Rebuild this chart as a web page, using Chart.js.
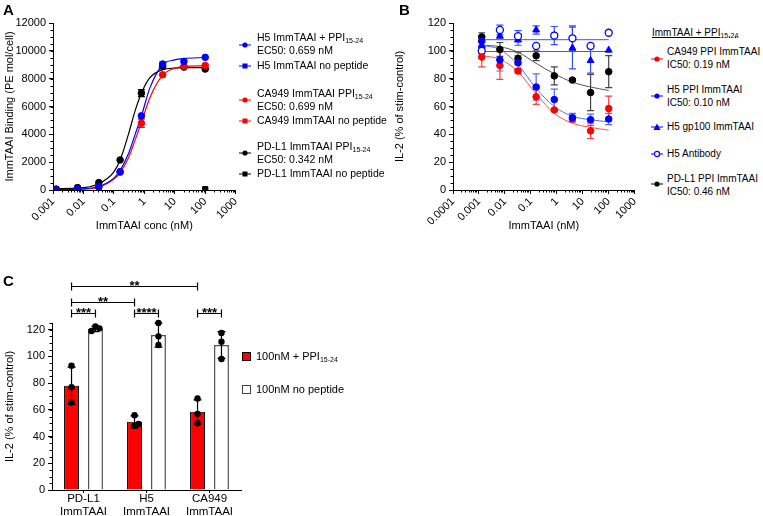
<!DOCTYPE html>
<html><head><meta charset="utf-8">
<script src="https://cdn.jsdelivr.net/npm/chart.js@4.4.0/dist/chart.umd.min.js"></script>
<style>
body{margin:0;background:#fff;font-family:"Liberation Sans",Arial,sans-serif;color:#000}
#wrap{position:relative;width:763px;height:516px;overflow:hidden}
canvas{position:absolute}
.t{position:absolute;white-space:nowrap;line-height:13px;font-size:10.5px}
.b{font-size:10px}
.lab{position:absolute;font-weight:bold;font-size:15px}
sub{font-size:7px;vertical-align:-2px;line-height:0}
svg{position:absolute}
</style></head><body><div id="wrap">
<canvas id="cA" width="246" height="236" style="left:0;top:0"></canvas>
<canvas id="cB" width="255" height="236" style="left:390px;top:0"></canvas>
<canvas id="cC" width="255" height="246" style="left:0;top:270px"></canvas>

<div class="lab" style="left:3px;top:1px">A</div>
<div class="lab" style="left:399px;top:1px">B</div>
<div class="lab" style="left:3px;top:272px">C</div>

<!-- legend A -->
<svg width="12" height="8" style="left:239px;top:41px"><line x1="0" y1="4" x2="12" y2="4" stroke="#00f"/><circle cx="6" cy="4" r="2.6" fill="#00f"/></svg>
<div class="t" style="left:257px;top:31px">H5 ImmTAAI + PPI<sub>15-24</sub><br>EC50: 0.659 nM</div>
<svg width="12" height="8" style="left:239px;top:62px"><line x1="0" y1="4" x2="12" y2="4" stroke="#00f"/><rect x="3.5" y="1.5" width="5" height="5" fill="#00f"/></svg>
<div class="t" style="left:257px;top:59px">H5 ImmTAAI no peptide</div>
<svg width="12" height="8" style="left:239px;top:96px"><line x1="0" y1="4" x2="12" y2="4" stroke="#f00"/><circle cx="6" cy="4" r="2.6" fill="#f00"/></svg>
<div class="t" style="left:257px;top:87px">CA949 ImmTAAI PPI<sub>15-24</sub><br>EC50: 0.699 nM</div>
<svg width="12" height="8" style="left:239px;top:117px"><line x1="0" y1="4" x2="12" y2="4" stroke="#f00"/><rect x="3.5" y="1.5" width="5" height="5" fill="#f00"/></svg>
<div class="t" style="left:257px;top:114px">CA949 ImmTAAI no peptide</div>
<svg width="12" height="8" style="left:239px;top:149px"><line x1="0" y1="4" x2="12" y2="4" stroke="#000"/><circle cx="6" cy="4" r="2.6" fill="#000"/></svg>
<div class="t" style="left:257px;top:140px">PD-L1 ImmTAAI PPI<sub>15-24</sub><br>EC50: 0.342 nM</div>
<svg width="12" height="8" style="left:239px;top:170px"><line x1="0" y1="4" x2="12" y2="4" stroke="#000"/><rect x="3.5" y="1.5" width="5" height="5" fill="#000"/></svg>
<div class="t" style="left:257px;top:167px">PD-L1 ImmTAAI no peptide</div>

<!-- legend B -->
<div class="t b" style="left:652px;top:26px;text-decoration:underline">ImmTAAI + PPI<sub>15-24</sub></div>
<svg width="12" height="8" style="left:651px;top:55px"><line x1="0" y1="4" x2="12" y2="4" stroke="#f00"/><circle cx="6" cy="4" r="2.6" fill="#f00"/></svg>
<div class="t b" style="left:667px;top:45px">CA949 PPI ImmTAAI<br>IC50: 0.19 nM</div>
<svg width="12" height="8" style="left:651px;top:92px"><line x1="0" y1="4" x2="12" y2="4" stroke="#00f"/><circle cx="6" cy="4" r="2.6" fill="#00f"/></svg>
<div class="t b" style="left:667px;top:83px">H5 PPI ImmTAAI<br>IC50: 0.10 nM</div>
<svg width="12" height="8" style="left:651px;top:123px"><line x1="0" y1="4" x2="12" y2="4" stroke="#00f"/><polygon points="6,0.5 9.5,7 2.5,7" fill="#00f"/></svg>
<div class="t b" style="left:667px;top:120px">H5 gp100 ImmTAAI</div>
<svg width="12" height="8" style="left:651px;top:150px"><line x1="0" y1="4" x2="12" y2="4" stroke="#00f"/><circle cx="6" cy="4" r="2.6" fill="#fff" stroke="#00f" stroke-width="1.2"/></svg>
<div class="t b" style="left:667px;top:147px">H5 Antibody</div>
<svg width="12" height="8" style="left:651px;top:180px"><line x1="0" y1="4" x2="12" y2="4" stroke="#000"/><circle cx="6" cy="4" r="2.6" fill="#000"/></svg>
<div class="t b" style="left:667px;top:172px">PD-L1 PPI ImmTAAI<br>IC50: 0.46 nM</div>

<!-- legend C -->
<svg width="9" height="9" style="left:242px;top:352px"><rect x="0.5" y="0.5" width="8" height="8" fill="#f00" stroke="#000"/></svg>
<div class="t" style="left:256px;top:350px;font-size:11px">100nM + PPI<sub>15-24</sub></div>
<svg width="9" height="9" style="left:242px;top:385px"><rect x="0.5" y="0.5" width="8" height="8" fill="#fff" stroke="#444"/></svg>
<div class="t" style="left:256px;top:383px;font-size:11px">100nM no peptide</div>
</div>
<script>
// 5倍稀释浓度 (nM)
const doseX = [0.00128, 0.0064, 0.032, 0.16, 0.8, 4, 20, 100];

// A: binding
const aH5 = [0, 50, 240, 1320, 5330, 9050, 9240, 9530];
const aH5Err = [0, 0, 0, 0, 0, 150, 0, 0];
const aCa949 = [0, 50, 190, 1270, 4800, 8280, 8880, 8950];
const aCa949Err = [0, 0, 0, 0, 300, 0, 0, 0];
const aPdl1 = [70, 170, 530, 2160, 6960, 8880, 8830, 8690];
const aPdl1Err = [0, 0, 0, 0, 250, 0, 0, 0];
const aNoPepX = [100];
const aH5NoPep = [0];
const aCa949NoPep = [0];
const aPdl1NoPep = [70];
// fitted curves
const aFitX = [0.00128, 0.0064, 0.032, 0.1, 0.16, 0.3, 0.5, 0.8, 1.5, 4, 10, 20, 100];
const aFitH5 = [20, 60, 250, 850, 1400, 2600, 4000, 5300, 7300, 9000, 9350, 9450, 9520];
const aFitCa949 = [20, 50, 200, 780, 1250, 2300, 3600, 4850, 6600, 8250, 8750, 8880, 8920];
const aFitPdl1 = [100, 130, 450, 1300, 2150, 4000, 5700, 6950, 8050, 8650, 8760, 8790, 8800];

// B: IL-2
const bCa949 = [95.5, 89.5, 85.5, 67, 57.5, 51, 42.5, 58.5];
const bCa949Err = [7, 10, 1.5, 5.5, 1, 2, 5.5, 9];
const bH5 = [107, 93.5, 91.5, 74, 65, 52, 50.5, 51];
const bH5Err = [3, 8, 5, 9.5, 7.5, 3, 4, 4];
const bGp100 = [104, 110.5, 108, 115, 111, 102, 93, 100.5];
const bGp100Err = [2, 0, 4, 3, 0, 15, 9, 0];
const bAb = [100, 115, 110.5, 103.5, 111, 109, 103.5, 113];
const bAbErr = [2, 3.5, 4, 0, 6.5, 9, 0, 0];
const bPdl1 = [110, 101, 94.5, 96.5, 82, 79, 70, 85];
const bPdl1Err = [3, 5, 4.5, 3.5, 6.5, 1, 13, 11.5];
const bFitCa949 = [96.5, 94, 85, 69, 55, 48, 45, 43];
const bFitH5 = [104, 101, 90, 73, 60, 53, 50.5, 49];
const bFitPdl1 = [104, 103, 99, 91, 83.5, 77.5, 74, 71.5];
const bFlatX = [0.00128, 100];
const bFlatGp100 = [99.5, 99.5];
const bFlatAb = [108, 108];

// C: 100nM
const cGroups = [['PD-L1', 'ImmTAAI'], ['H5', 'ImmTAAI'], ['CA949', 'ImmTAAI']];
const cPpiMean = [78, 51, 58.5];
const cPpiSd = [14, 4.5, 9];
const cPpiReps = [[93, 77, 65.5], [56, 48, 49.5], [68.5, 57, 50]];
const cNoPepMean = [120.5, 116, 108.5];
const cNoPepSd = [2, 9, 10];
const cNoPepReps = [[122.5, 119, 121], [125, 115, 108.5], [117.5, 111, 98]];
// [group, dataset] -> [group, dataset], label
const cSig = [
    [[0, 0], [0, 1], '***'],
    [[1, 0], [1, 1], '****'],
    [[2, 0], [2, 1], '***'],
    [[0, 0], [1, 0], '**'],
    [[0, 0], [2, 0], '**']
];

Chart.defaults.font.family = '"Liberation Sans", Arial, sans-serif';
Chart.defaults.font.size = 11;
Chart.defaults.color = '#000';

const pts = (xs, ys) => xs.map((x, i) => ({ x, y: ys[i] }));

const errorBars = {
    id: 'errorBars',
    beforeDatasetsDraw(chart) {
        const { ctx, scales: { x, y } } = chart;
        chart.data.datasets.forEach(ds => {
            if (!ds.errors) return;
            ctx.save();
            ctx.strokeStyle = ds.errColor || ds.borderColor;
            ctx.lineWidth = 1.2;
            ctx.beginPath();
            ds.data.forEach((p, j) => {
                const e = ds.errors[j];
                if (!e) return;
                const px = x.getPixelForValue(p.x);
                const y1 = y.getPixelForValue(p.y - e), y2 = y.getPixelForValue(p.y + e);
                ctx.moveTo(px, y1); ctx.lineTo(px, y2);
                ctx.moveTo(px - 3.5, y1); ctx.lineTo(px + 3.5, y1);
                ctx.moveTo(px - 3.5, y2); ctx.lineTo(px + 3.5, y2);
            });
            ctx.stroke();
            ctx.restore();
        });
    }
};

const minorTicks = {
    id: 'minorTicks',
    afterDraw(chart, args, opts) {
        const { ctx, chartArea: a, scales: { x, y } } = chart;
        ctx.save();
        ctx.strokeStyle = '#000';
        ctx.lineWidth = 1;
        ctx.beginPath();
        if (x.type === 'logarithmic') {
            const d0 = Math.round(Math.log10(x.min)), d1 = Math.round(Math.log10(x.max));
            for (let d = d0; d < d1; d++) {
                for (let m = 2; m <= 9; m++) {
                    const px = Math.round(x.getPixelForValue(m * Math.pow(10, d))) + 0.5;
                    ctx.moveTo(px, a.bottom); ctx.lineTo(px, a.bottom + 2.5);
                }
            }
        }
        if (opts.yStep) {
            for (let v = 0; v <= y.max; v += opts.yStep) {
                const py = Math.round(y.getPixelForValue(v)) + 0.5;
                ctx.moveTo(a.left, py); ctx.lineTo(a.left - 2.5, py);
            }
        }
        ctx.stroke();
        ctx.restore();
    }
};

function logAxis(min, max, title) {
    return {
        type: 'logarithmic', min, max,
        afterBuildTicks: s => {
            const t = [];
            for (let v = min; v <= max * 1.001; v *= 10) t.push({ value: +v.toPrecision(1) });
            s.ticks = t;
        },
        ticks: { autoSkip: false, minRotation: 45, maxRotation: 45, padding: 1, callback: v => String(v) },
        grid: { drawOnChartArea: false, tickLength: 4, color: '#000' },
        border: { color: '#000' },
        title: { display: true, text: title, padding: { top: 0, bottom: 3 } },
        afterFit: s => { s.height = 46; }
    };
}

function linAxis(max, step, title, width) {
    return {
        min: 0, max,
        afterBuildTicks: s => {
            const t = [];
            for (let v = 0; v <= max; v += step) t.push({ value: v });
            s.ticks = t;
        },
        ticks: { stepSize: step, padding: 3, callback: v => String(v) },
        grid: { drawOnChartArea: false, tickLength: 4, color: '#000' },
        border: { color: '#000' },
        title: { display: true, text: title, padding: { top: 3, bottom: 0 } },
        afterFit: s => { s.width = width; }
    };
}

const dotSet = (data, color, extra) => Object.assign({
    data, showLine: false, pointRadius: 3.3, pointHoverRadius: 3.3,
    backgroundColor: color, borderColor: color, borderWidth: 1
}, extra || {});
const curveSet = (data, color, w) => ({
    data, showLine: true, pointRadius: 0, borderColor: color, borderWidth: w,
    cubicInterpolationMode: 'monotone', fill: false
});

// A
new Chart(document.getElementById('cA'), {
    type: 'scatter',
    data: {
        datasets: [
            dotSet(pts(aNoPepX, aPdl1NoPep), '#000', { pointStyle: 'rect', pointRadius: 3.5 }),
            dotSet(pts(doseX, aH5), '#0000ff', { errors: aH5Err, errColor: '#777' }),
            dotSet(pts(doseX, aCa949), '#ff0000', { errors: aCa949Err }),
            dotSet(pts(doseX, aPdl1), '#000', { errors: aPdl1Err }),
            dotSet(pts(aNoPepX, aCa949NoPep), '#ff0000', { pointStyle: 'rect', pointRadius: 3.5 }),
            dotSet(pts(aNoPepX, aH5NoPep), '#0000ff', { pointStyle: 'rect', pointRadius: 3.5 }),
            curveSet(pts(aFitX, aFitH5), '#0000ff', 1.2),
            curveSet(pts(aFitX, aFitCa949), '#ff0000', 1.2),
            curveSet(pts(aFitX, aFitPdl1), '#000', 1.2)
        ]
    },
    options: {
        responsive: false, animation: false,
        layout: { padding: { top: 23, right: 0 } },
        plugins: { legend: { display: false }, tooltip: { enabled: false }, minorTicks: { yStep: 500 } },
        scales: {
            x: logAxis(0.001, 1000, 'ImmTAAI conc (nM)'),
            y: linAxis(12000, 1000, 'ImmTAAI Binding (PE mol/cell)', 53)
        }
    },
    plugins: [errorBars, minorTicks]
});

// B
new Chart(document.getElementById('cB'), {
    type: 'scatter',
    data: {
        datasets: [
            dotSet(pts(doseX, bH5), '#0000ff', { errors: bH5Err, errColor: '#4d6bff' }),
            dotSet(pts(doseX, bCa949), '#ff0000', { errors: bCa949Err, errColor: '#ff3b3b' }),
            dotSet(pts(doseX, bPdl1), '#000', { errors: bPdl1Err, errColor: '#444' }),
            dotSet(pts(doseX, bAb), '#0000ff', { errors: bAbErr, errColor: '#3050ff', backgroundColor: '#fff', borderWidth: 1.3, pointRadius: 3.5 }),
            dotSet(pts(doseX, bGp100), '#0000ff', { errors: bGp100Err, errColor: '#3050ff', pointStyle: 'triangle', pointRadius: 4 }),
            curveSet(pts(doseX, bFitCa949), '#ff5050', 1),
            curveSet(pts(doseX, bFitH5), '#4d6bff', 1),
            curveSet(pts(doseX, bFitPdl1), '#555', 1),
            curveSet(pts(bFlatX, bFlatAb), '#3355ff', 1),
            curveSet(pts(bFlatX, bFlatGp100), '#3355ff', 1)
        ]
    },
    options: {
        responsive: false, animation: false,
        layout: { padding: { top: 23, right: 0 } },
        plugins: { legend: { display: false }, tooltip: { enabled: false }, minorTicks: { yStep: 5 } },
        scales: {
            x: logAxis(0.0001, 1000, 'ImmTAAI (nM)'),
            y: linAxis(120, 20, 'IL-2 (% of stim-control)', 63)
        }
    },
    plugins: [errorBars, minorTicks]
});

// C
const barExtras = {
    id: 'barExtras',
    afterDatasetsDraw(chart) {
        const { ctx, scales: { y } } = chart;
        ctx.save();
        chart.data.datasets.forEach((ds, i) => {
            const meta = chart.getDatasetMeta(i);
            ds.data.forEach((m, j) => {
                const bx = meta.data[j].x;
                const y1 = y.getPixelForValue(m - ds.sd[j]), y2 = y.getPixelForValue(m + ds.sd[j]);
                ctx.strokeStyle = '#000';
                ctx.lineWidth = 1.2;
                ctx.beginPath();
                ctx.moveTo(bx, y1); ctx.lineTo(bx, y2);
                ctx.moveTo(bx - 4, y1); ctx.lineTo(bx + 4, y1);
                ctx.moveTo(bx - 4, y2); ctx.lineTo(bx + 4, y2);
                ctx.stroke();
                const placed = [];
                ds.reps[j].forEach(v => {
                    let dx = 0;
                    if (placed.some(p => Math.abs(p - v) < 4)) dx = placed.length % 2 ? -4 : 4;
                    placed.push(v);
                    ctx.fillStyle = '#000';
                    ctx.beginPath();
                    ctx.arc(bx + dx, y.getPixelForValue(v), 3.2, 0, Math.PI * 2);
                    ctx.fill();
                });
            });
        });
        ctx.restore();
    },
    afterDraw(chart) {
        const { ctx, chartArea: a } = chart;
        const levels = [10, 21.5, 37];
        const lvlOf = [0, 0, 0, 1, 2];
        ctx.save();
        ctx.strokeStyle = '#000';
        ctx.fillStyle = '#000';
        ctx.lineWidth = 1.2;
        ctx.font = 'bold 13px "Liberation Sans", Arial, sans-serif';
        ctx.textAlign = 'center';
        ctx.textBaseline = 'alphabetic';
        cSig.forEach(([p, q, label], k) => {
            const x1 = chart.getDatasetMeta(p[1]).data[p[0]].x;
            const x2 = chart.getDatasetMeta(q[1]).data[q[0]].x;
            const yy = Math.round(a.top - levels[lvlOf[k]]) + 0.5;
            ctx.beginPath();
            ctx.moveTo(x1, yy); ctx.lineTo(x2, yy);
            ctx.moveTo(x1, yy - 4); ctx.lineTo(x1, yy + 4);
            ctx.moveTo(x2, yy - 4); ctx.lineTo(x2, yy + 4);
            ctx.stroke();
            ctx.fillText(label, (x1 + x2) / 2, yy + 3);
        });
        ctx.restore();
    }
};

new Chart(document.getElementById('cC'), {
    type: 'bar',
    data: {
        labels: cGroups,
        datasets: [
            { data: cPpiMean, sd: cPpiSd, reps: cPpiReps, backgroundColor: '#ff0000', borderColor: '#000', borderWidth: 1,
              categoryPercentage: 0.76, barPercentage: 0.625 },
            { data: cNoPepMean, sd: cNoPepSd, reps: cNoPepReps, backgroundColor: '#fff', borderColor: '#555', borderWidth: 1.5,
              categoryPercentage: 0.76, barPercentage: 0.625 }
        ]
    },
    options: {
        responsive: false, animation: false,
        layout: { padding: { top: 53, right: 14 } },
        plugins: { legend: { display: false }, tooltip: { enabled: false }, minorTicks: { yStep: 5 } },
        scales: {
            x: {
                grid: { drawOnChartArea: false, offset: false, tickLength: 3, color: '#000' },
                border: { color: '#000' },
                ticks: { font: { size: 11.5, lineHeight: 1.08 }, padding: 0, maxRotation: 0 },
                afterFit: s => { s.height = 26; }
            },
            y: linAxis(125, 20, 'IL-2 (% of stim-control)', 52)
        }
    },
    plugins: [barExtras, minorTicks]
});
</script>
</body></html>
